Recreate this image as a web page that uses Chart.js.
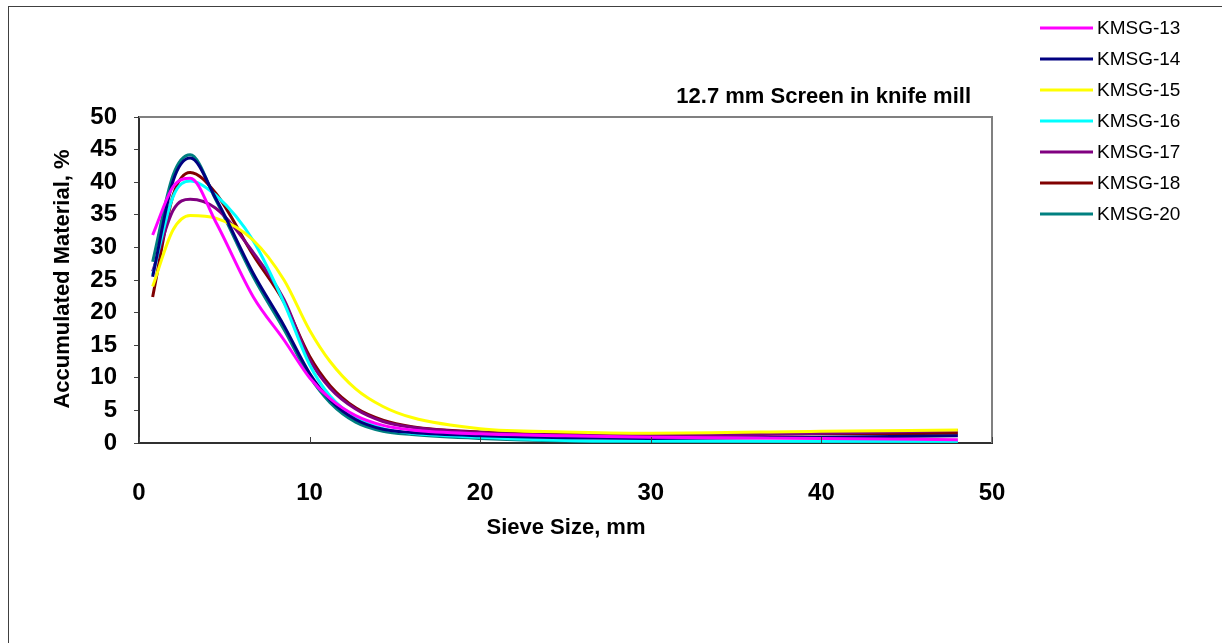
<!DOCTYPE html>
<html>
<head>
<meta charset="utf-8">
<title>Accumulated Material vs Sieve Size</title>
<script src="https://cdn.jsdelivr.net/npm/chart.js@4.4.0/dist/chart.umd.min.js"></script>
<style>
  html, body { margin: 0; padding: 0; background: #fff; overflow: hidden; }
  #frame { position: absolute; left: 8px; top: 6px; width: 1240px; height: 660px;
           border-left: 1px solid #404040; border-top: 1px solid #404040; }
  #wrap { position: absolute; left: 0; top: 0; width: 1222px; height: 643px; }
</style>
</head>
<body>
<div id="frame"></div>
<div id="wrap"><canvas id="c" width="1222" height="643"></canvas></div>
<script>
// Sieve sizes (mm) at which the curves are sampled
const sieveSize = [0.8, 2, 3, 4.5, 6.7, 8.5, 10, 11.2, 12.7, 14.3, 16, 20, 25, 30, 40, 48];

// Accumulated material (%) per sample
const kmsg13 = [31.9, 39.3, 40.6, 33.9, 22.4, 15.8, 10.0, 6.8, 4.2, 2.7, 2.0, 1.4, 1.1, 0.9, 0.7, 0.5];
const kmsg14 = [25.5, 40.2, 43.7, 37.5, 26.0, 18.0, 10.7, 6.6, 3.6, 2.1, 1.6, 1.1, 0.8, 0.7, 0.9, 1.1];
const kmsg15 = [24.0, 32.7, 34.9, 34.5, 31.1, 25.0, 17.3, 12.5, 8.3, 5.6, 3.9, 2.2, 1.7, 1.5, 1.8, 2.0];
const kmsg16 = [25.8, 37.8, 40.2, 38.0, 31.0, 21.5, 12.0, 7.2, 3.9, 2.2, 1.5, 0.9, 0.4, 0.3, 0.25, 0.25];
const kmsg17 = [26.3, 35.7, 37.4, 36.0, 29.2, 22.0, 12.8, 8.4, 5.2, 3.3, 2.4, 1.6, 1.2, 1.1, 1.5, 1.9];
const kmsg18 = [22.4, 38.0, 41.5, 38.3, 28.8, 21.6, 13.3, 8.8, 5.4, 3.5, 2.5, 1.7, 1.4, 1.3, 1.4, 1.5];
const kmsg20 = [27.8, 41.1, 44.2, 37.3, 25.5, 17.4, 10.2, 6.2, 3.2, 1.8, 1.3, 0.7, 0.3, 0.2, 0.15, 0.1];

const seriesNames = ['KMSG-13', 'KMSG-14', 'KMSG-15', 'KMSG-16', 'KMSG-17', 'KMSG-18', 'KMSG-20'];
const seriesValues = [kmsg13, kmsg14, kmsg15, kmsg16, kmsg17, kmsg18, kmsg20];
const seriesColors = ['#FF00FF', '#000080', '#FFFF00', '#00FFFF', '#800080', '#800000', '#008080'];

const yTicks = [0, 5, 10, 15, 20, 25, 30, 35, 40, 45, 50];
const xTicks = [0, 10, 20, 30, 40, 50];

const chartTitle = '12.7 mm Screen in knife mill';
const xTitle = 'Sieve Size, mm';
const yTitle = 'Accumulated Material, %';

const FONT = 'Arial, "Liberation Sans", sans-serif';

const datasets = seriesNames.map((name, i) => ({
  label: name,
  data: sieveSize.map((x, j) => ({ x: x, y: seriesValues[i][j] })),
  borderColor: seriesColors[i],
  backgroundColor: seriesColors[i],
  borderWidth: 3,
  pointRadius: 0,
  fill: false,
  showLine: true,
  cubicInterpolationMode: 'monotone'
}));

// Draws plot frame, inward x ticks, titles and the legend
const decorations = {
  id: 'decorations',
  afterDraw(chart) {
    const ctx = chart.ctx;
    const a = chart.chartArea;
    const xs = chart.scales.x;
    ctx.save();

    // top and right edges of the plot area
    ctx.strokeStyle = '#808080';
    ctx.lineWidth = 2;
    ctx.beginPath();
    ctx.moveTo(a.left, a.top);
    ctx.lineTo(a.right, a.top);
    ctx.lineTo(a.right, a.bottom);
    ctx.stroke();

    // x tick marks pointing into the plot
    ctx.strokeStyle = '#404040';
    ctx.lineWidth = 1;
    xTicks.forEach(v => {
      const px = Math.round(xs.getPixelForValue(v)) + 0.5;
      ctx.beginPath();
      ctx.moveTo(px, a.bottom);
      ctx.lineTo(px, a.bottom - 6);
      ctx.stroke();
    });

    // chart title
    ctx.fillStyle = '#000';
    ctx.font = 'bold 22px ' + FONT;
    ctx.textAlign = 'right';
    ctx.textBaseline = 'middle';
    ctx.fillText(chartTitle, 971, 97);

    // axis titles
    ctx.textAlign = 'center';
    ctx.font = 'bold 22px ' + FONT;
    ctx.fillText(xTitle, 566, 528);
    ctx.save();
    ctx.translate(63, 279);
    ctx.rotate(-Math.PI / 2);
    ctx.fillText(yTitle, 0, 0);
    ctx.restore();

    // legend
    ctx.font = '19px ' + FONT;
    ctx.textAlign = 'left';
    chart.data.datasets.forEach((ds, i) => {
      const y = 28 + i * 31;
      ctx.strokeStyle = ds.borderColor;
      ctx.lineWidth = 3;
      ctx.beginPath();
      ctx.moveTo(1040, y);
      ctx.lineTo(1093, y);
      ctx.stroke();
      ctx.fillStyle = '#000';
      ctx.fillText(ds.label, 1097, y + 1);
    });
    ctx.restore();
  }
};

new Chart(document.getElementById('c'), {
  type: 'scatter',
  data: { datasets: datasets },
  options: {
    responsive: false,
    animation: false,
    layout: { padding: { left: 0, top: 117, right: 230, bottom: 90 } },
    plugins: { legend: { display: false }, tooltip: { enabled: false }, title: { display: false } },
    scales: {
      x: {
        type: 'linear',
        min: 0, max: 50,
        afterFit(scale) { scale.height = 110; },
        afterBuildTicks(scale) { scale.ticks = xTicks.map(v => ({ value: v })); },
        grid: { drawOnChartArea: false, drawTicks: false },
        border: { color: '#303030', width: 2 },
        ticks: { color: '#000', font: { family: FONT, size: 24, weight: 'bold' }, padding: 36, maxRotation: 0 }
      },
      y: {
        type: 'linear',
        min: 0, max: 50,
        afterFit(scale) { scale.width = 139; },
        afterBuildTicks(scale) { scale.ticks = yTicks.map(v => ({ value: v })); },
        grid: { drawOnChartArea: false, drawTicks: true, tickLength: 5, color: '#404040' },
        border: { color: '#303030', width: 2 },
        ticks: { color: '#000', font: { family: FONT, size: 24, weight: 'bold' }, padding: 17 }
      }
    }
  },
  plugins: [decorations]
});
</script>
</body>
</html>
